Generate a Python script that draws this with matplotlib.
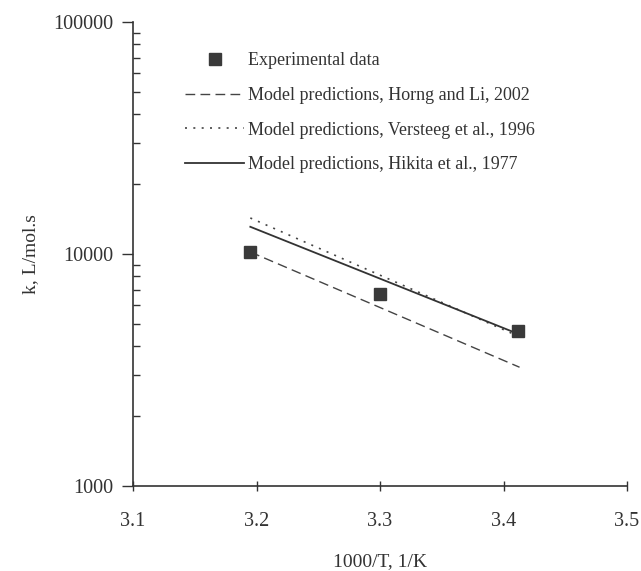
import matplotlib
matplotlib.use("Agg")
import matplotlib.pyplot as plt
from matplotlib.ticker import LogLocator, NullFormatter, FixedLocator

plt.rcParams['font.family'] = ['Liberation Serif', 'DejaVu Serif']

# data
exp_x = [3.195, 3.300, 3.412]
exp_k = [10200, 6700, 4650]

horng_x = [3.195, 3.413]
horng_k = [10200, 3250]

versteeg_x = [3.195, 3.413]
versteeg_k = [14300, 4400]

hikita_x = [3.195, 3.413]
hikita_k = [13100, 4500]

xticks = [3.1, 3.2, 3.3, 3.4, 3.5]
yticks = [1000, 10000, 100000]

W, H = 641, 571
fig = plt.figure(figsize=(W / 100, H / 100), dpi=100)
ax = fig.add_axes([133 / W, 1 - 486 / H, (627 - 133) / W, (486 - 22) / H])

ax.plot(exp_x, exp_k, linestyle='none', marker='s', markersize=8,
        color='#3a3a3a', label='Experimental data', zorder=5)
ax.plot(horng_x, horng_k, linestyle=(0, (7, 3.8)), color='#444444', lw=1.0,
        label='Model predictions, Horng and Li, 2002')
ax.plot(versteeg_x, versteeg_k, linestyle=(0, (1.2, 3.8)), color='#444444', lw=1.2,
        label='Model predictions, Versteeg et al., 1996')
ax.plot(hikita_x, hikita_k, linestyle='-', color='#333333', lw=1.3,
        label='Model predictions, Hikita et al., 1977')

ax.set_yscale('log')
ax.set_xlim(3.1, 3.5)
ax.set_ylim(1000, 100000)
ax.xaxis.set_major_locator(FixedLocator(xticks))
ax.set_xticklabels([f'{v:.1f}' for v in xticks])
ax.yaxis.set_major_locator(FixedLocator(yticks))
ax.set_yticklabels([str(v) for v in yticks])
ax.yaxis.set_minor_locator(LogLocator(base=10, subs=range(2, 10)))
ax.yaxis.set_minor_formatter(NullFormatter())

for s in ['top', 'right']:
    ax.spines[s].set_visible(False)
for s in ['left', 'bottom']:
    ax.spines[s].set_color('#333333')
    ax.spines[s].set_linewidth(1.2)

ax.tick_params(axis='y', which='major', direction='out', length=8, width=1.0,
               labelsize=14.5, pad=6, colors='#333333')
ax.tick_params(axis='y', which='minor', direction='in', length=5, width=1.0,
               colors='#333333')
ax.tick_params(axis='x', which='major', direction='inout', length=7, width=1.0,
               labelsize=14.5, pad=15, colors='#333333')

ax.set_xlabel('1000/T, 1/K', fontsize=14, color='#333333', labelpad=16)
ax.set_ylabel('k, L/mol.s', fontsize=14, color='#333333')
ax.yaxis.set_label_coords(-0.19, 0.5)

ax.legend(loc='upper left', bbox_to_anchor=(0.105, 0.935), frameon=False,
          borderpad=0, borderaxespad=0,
          fontsize=13, handlelength=3.3, handletextpad=0.2,
          labelspacing=0.98, labelcolor='#333333')

fig.savefig('out.png', dpi=100)
